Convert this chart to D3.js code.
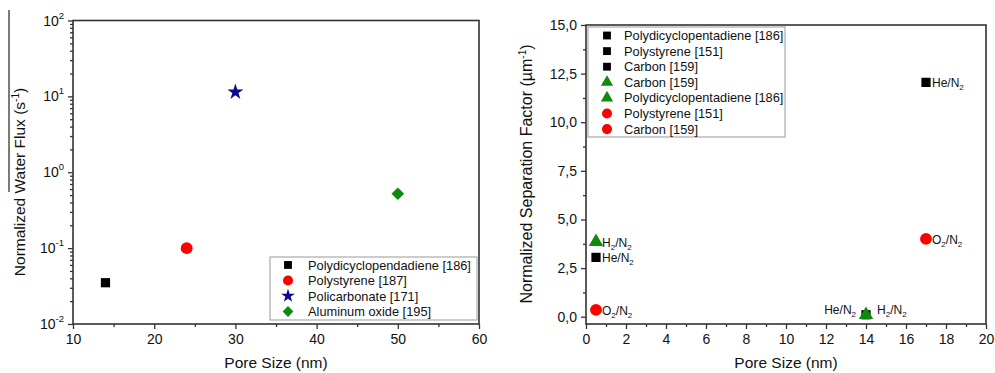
<!DOCTYPE html>
<html>
<head>
<meta charset="utf-8">
<script src="https://cdn.jsdelivr.net/npm/d3@7"></script>
<style>
  body { margin: 0; background: #fff; }
  svg { font-family: "Liberation Sans", Arial, sans-serif; }
</style>
</head>
<body>
<svg id="chart" width="995" height="373"></svg>
<script>
// left panel: water flux vs pore size
const fluxNames = ['Polydicyclopendadiene [186]', 'Polystyrene [187]', 'Policarbonate [171]', 'Aluminum oxide [195]'];
const fluxPore = [14, 24, 30, 50];
const fluxValue = [0.035, 0.1, 11.4, 0.52];
const fluxShapes = ['square', 'circle', 'star', 'diamond'];
const fluxColors = ['#000000', '#ff0000', '#0a0a8a', '#0f8a0f'];
const fluxYTicks = [0.01, 0.1, 1, 10, 100];
const fluxYExp = ['-2', '-1', '0', '1', '2'];
const fluxXTicks = [10, 20, 30, 40, 50, 60];

// right panel: separation factor vs pore size
const sepNames = ['Polydicyclopentadiene [186]', 'Polystyrene [151]', 'Carbon [159]', 'Carbon [159]',
  'Polydicyclopentadiene [186]', 'Polystyrene [151]', 'Carbon [159]'];
const sepPore = [14, 17, 0.5, 0.5, 14, 17, 0.5];
const sepValue = [0.1, 12.05, 3.05, 3.85, 0.1, 4.0, 0.35];
const sepGas = [['He', 'N'], ['He', 'N'], ['He', 'N'], ['H', 'N'], ['H', 'N'], ['O', 'N'], ['O', 'N']];
const sepShapes = ['square', 'square', 'square', 'triangle', 'triangle', 'circle', 'circle'];
const sepColors = ['#000000', '#000000', '#000000', '#0f8a0f', '#0f8a0f', '#ff0000', '#ff0000'];
const sepYTicks = [0, 2.5, 5, 7.5, 10, 12.5, 15];
const sepXTicks = [0, 2, 4, 6, 8, 10, 12, 14, 16, 18, 20];

const svg = d3.select('#chart');
const axisColor = '#333';

const symbolTypes = {
  square: d3.symbolSquare,
  circle: d3.symbolCircle,
  star: d3.symbolStar,
  diamond: d3.symbolSquare,   // drawn rotated 45 degrees
  triangle: d3.symbolTriangle
};
const symbolSizes = { square: 85, circle: 110, star: 80, diamond: 80, triangle: 90 };

function marker(g, shape, color) {
  g.append('path')
    .attr('d', d3.symbol().type(symbolTypes[shape]).size(symbolSizes[shape])())
    .attr('transform', shape === 'diamond' ? 'rotate(45)' : null)
    .attr('fill', color);
}

function styleAxis(g) {
  g.select('.domain').remove();
  g.selectAll('line').attr('stroke', axisColor).attr('stroke-width', 1.3);
  g.selectAll('text').attr('fill', '#111').style('font-size', '14px')
    .style('font-family', '"Liberation Sans", Arial, sans-serif');
}

function frame(x0, y0, x1, y1) {
  svg.append('rect')
    .attr('x', x0).attr('y', y0)
    .attr('width', x1 - x0).attr('height', y1 - y0)
    .attr('fill', 'none').attr('stroke', axisColor).attr('stroke-width', 1.6);
}

function subLabel(parent, x, y, parts, anchor) {
  // parts: [first atom, second atom] -> A2/B2 style label
  const t = parent.append('text')
    .attr('x', x).attr('y', y)
    .attr('text-anchor', anchor)
    .style('font-size', '12px').attr('fill', '#111');
  t.append('tspan').text(parts[0]);
  if (parts[0] !== 'He') t.append('tspan').attr('dy', 3).style('font-size', '8px').text('2');
  t.append('tspan').attr('dy', parts[0] !== 'He' ? -3 : 0).text('/' + parts[1]);
  t.append('tspan').attr('dy', 3).style('font-size', '8px').text('2');
  return t;
}

// ---------- left panel ----------
(function drawLeft() {
  const left = 73, right = 479, top = 20.5, bottom = 324;

  const x = d3.scaleLinear().domain([10, 60]).range([left, right]);
  const y = d3.scaleLog().domain([0.01, 100]).range([bottom, top]);

  // x ticks
  svg.append('g')
    .attr('transform', `translate(0,${bottom})`)
    .call(d3.axisBottom(x).tickValues(fluxXTicks).tickSize(5).tickPadding(5).tickFormat(d3.format('d')))
    .call(styleAxis);
  svg.append('g')
    .attr('transform', `translate(0,${bottom})`)
    .call(d3.axisBottom(x).tickValues(d3.range(15, 60, 10)).tickSize(3).tickFormat(''))
    .call(styleAxis);

  // y ticks (log, with minor ticks)
  const minor = [];
  for (let e = -2; e < 2; e++) for (let m = 2; m <= 9; m++) minor.push(m * Math.pow(10, e));
  svg.append('g')
    .attr('transform', `translate(${left},0)`)
    .call(d3.axisLeft(y).tickValues(fluxYTicks).tickSize(5).tickFormat(''))
    .call(styleAxis);
  svg.append('g')
    .attr('transform', `translate(${left},0)`)
    .call(d3.axisLeft(y).tickValues(minor).tickSize(3).tickFormat(''))
    .call(styleAxis);

  fluxYTicks.forEach((v, i) => {
    const t = svg.append('text')
      .attr('x', left - 9).attr('y', y(v) + 5)
      .attr('text-anchor', 'end')
      .style('font-size', '14px').attr('fill', '#111');
    t.append('tspan').text('10');
    t.append('tspan').attr('dy', -7).style('font-size', '9.5px').text(fluxYExp[i]);
  });

  frame(left, top, right, bottom);

  // points
  fluxPore.forEach((p, i) => {
    const g = svg.append('g').attr('transform', `translate(${x(p)},${y(fluxValue[i])})`);
    marker(g, fluxShapes[i], fluxColors[i]);
  });

  // legend
  const lg = svg.append('g');
  lg.append('rect')
    .attr('x', 270).attr('y', 257).attr('width', 207).attr('height', 63)
    .attr('fill', '#fff').attr('stroke', '#999').attr('stroke-width', 1);
  fluxNames.forEach((n, i) => {
    const row = lg.append('g').attr('transform', `translate(288,${265 + i * 15.5})`);
    const mg = row.append('g').attr('transform', 'scale(0.85)');
    marker(mg, fluxShapes[i], fluxColors[i]);
    row.append('text').attr('x', 20).attr('y', 4.5)
      .style('font-size', '12.8px').attr('fill', '#111').text(n);
  });

  // axis titles
  svg.append('text')
    .attr('x', (left + right) / 2).attr('y', 368)
    .attr('text-anchor', 'middle').style('font-size', '15.5px').attr('fill', '#111')
    .text('Pore Size (nm)');

  const yt = svg.append('text')
    .attr('transform', 'translate(25,182) rotate(-90)')
    .attr('text-anchor', 'middle').style('font-size', '15.5px').attr('fill', '#111');
  yt.append('tspan').text('Normalized Water Flux (s');
  yt.append('tspan').attr('dy', -6).style('font-size', '10px').text('-1');
  yt.append('tspan').attr('dy', 6).text(')');

  // overline on the title
  svg.append('line')
    .attr('x1', 9).attr('x2', 9).attr('y1', 10).attr('y2', 192)
    .attr('stroke', '#222').attr('stroke-width', 1.2);
})();

// ---------- right panel ----------
(function drawRight() {
  const left = 586, right = 986, top = 25, bottom = 324;

  const x = d3.scaleLinear().domain([0, 20]).range([left, right]);
  const y = d3.scaleLinear().domain([-0.375, 15]).range([bottom, top]);

  svg.append('g')
    .attr('transform', `translate(0,${bottom})`)
    .call(d3.axisBottom(x).tickValues(sepXTicks).tickSize(5).tickPadding(5).tickFormat(d3.format('d')))
    .call(styleAxis);
  svg.append('g')
    .attr('transform', `translate(0,${bottom})`)
    .call(d3.axisBottom(x).tickValues(d3.range(1, 20, 2)).tickSize(3).tickFormat(''))
    .call(styleAxis);

  const commaFmt = d => d3.format('.1f')(d).replace('.', ',');
  svg.append('g')
    .attr('transform', `translate(${left},0)`)
    .call(d3.axisLeft(y).tickValues(sepYTicks).tickSize(5).tickPadding(4).tickFormat(commaFmt))
    .call(styleAxis);
  svg.append('g')
    .attr('transform', `translate(${left},0)`)
    .call(d3.axisLeft(y).tickValues(d3.range(1.25, 15, 2.5)).tickSize(3).tickFormat(''))
    .call(styleAxis);

  frame(left, top, right, bottom);

  // points
  sepPore.forEach((p, i) => {
    const g = svg.append('g').attr('transform', `translate(${x(p)},${y(sepValue[i])})`);
    marker(g, sepShapes[i], sepColors[i]);
  });

  // gas labels next to points (the pair at 14 nm is split left / right)
  sepPore.forEach((p, i) => {
    const px = x(p), py = y(sepValue[i]);
    if (p === 14 && sepGas[i][0] === 'He') {
      subLabel(svg, px - 10, py - 1, sepGas[i], 'end');
    } else if (p === 14) {
      subLabel(svg, px + 11, py - 1, sepGas[i], 'start');
    } else {
      subLabel(svg, px + 6, py + 5, sepGas[i], 'start');
    }
  });

  // legend
  const lg = svg.append('g');
  lg.append('rect')
    .attr('x', 588).attr('y', 27).attr('width', 197).attr('height', 110)
    .attr('fill', '#fff').attr('stroke', '#999').attr('stroke-width', 1);
  sepNames.forEach((n, i) => {
    const row = lg.append('g').attr('transform', `translate(607,${35.5 + i * 15.6})`);
    const mg = row.append('g').attr('transform', 'scale(0.85)');
    marker(mg, sepShapes[i], sepColors[i]);
    row.append('text').attr('x', 17).attr('y', 4.5)
      .style('font-size', '12.8px').attr('fill', '#111').text(n);
  });

  svg.append('text')
    .attr('x', (left + right) / 2).attr('y', 368)
    .attr('text-anchor', 'middle').style('font-size', '15.5px').attr('fill', '#111')
    .text('Pore Size (nm)');

  const yt = svg.append('text')
    .attr('transform', 'translate(532,174) rotate(-90)')
    .attr('text-anchor', 'middle').style('font-size', '16px').attr('fill', '#111');
  yt.append('tspan').text('Normalized Separation Factor (\u00b5m');
  yt.append('tspan').attr('dy', -6).style('font-size', '10px').text('-1');
  yt.append('tspan').attr('dy', 6).text(')');
})();
</script>
</body>
</html>
